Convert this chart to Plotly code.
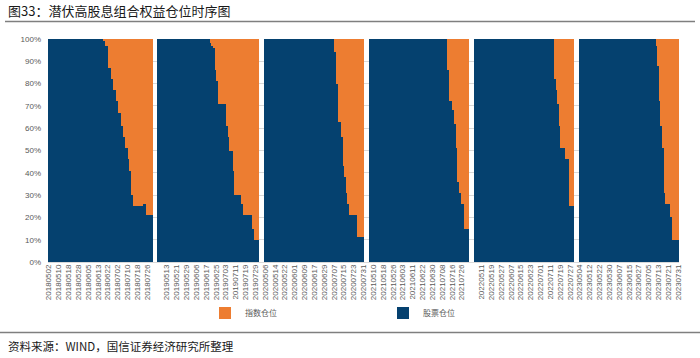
import plotly.graph_objects as go

# ---- data: stock (equity) position in %, one value per trading day, per period ----
stock_2018 = [
    100, 100, 100, 100, 100, 100, 100, 100, 100, 100,
    100, 100, 100, 100, 100, 100, 100, 100, 100, 100,
    100, 100, 100, 100, 100, 100, 100, 100, 100, 100,
    100, 100, 100, 100, 99, 97, 97, 87, 87, 82,
    77, 77, 72, 67, 67, 61, 56, 51, 51, 46,
    41, 30, 25, 25, 25, 25, 25, 25, 26, 26,
    21, 21, 21, 21]
stock_2019 = [
    100, 100, 100, 100, 100, 100, 100, 100, 100, 100,
    100, 100, 100, 100, 100, 100, 100, 100, 100, 100,
    100, 100, 100, 100, 100, 100, 100, 100, 100, 100,
    100, 100, 98, 97, 96, 86, 81, 71, 71, 71,
    71, 71, 61, 56, 50, 50, 41, 30, 30, 30,
    30, 26, 21, 21, 21, 21, 21, 21, 15, 10,
    10, 10]
stock_2020 = [
    100, 100, 100, 100, 100, 100, 100, 100, 100, 100,
    100, 100, 100, 100, 100, 100, 100, 100, 100, 100,
    100, 100, 100, 100, 100, 100, 100, 100, 100, 100,
    100, 100, 100, 100, 100, 100, 100, 100, 100, 100,
    100, 100, 100, 94, 80, 63, 63, 56, 43, 38,
    31, 26, 21, 21, 21, 21, 21, 11, 11, 11,
    11]
stock_2021 = [
    100, 100, 100, 100, 100, 100, 100, 100, 100, 100,
    100, 100, 100, 100, 100, 100, 100, 100, 100, 100,
    100, 100, 100, 100, 100, 100, 100, 100, 100, 100,
    100, 100, 100, 100, 100, 100, 100, 100, 100, 100,
    100, 100, 100, 100, 100, 100, 100, 100, 86, 72,
    72, 68, 62, 51, 36, 31, 26, 26, 15, 15,
    15]
stock_2022 = [
    100, 100, 100, 100, 100, 100, 100, 100, 100, 100,
    100, 100, 100, 100, 100, 100, 100, 100, 100, 100,
    100, 100, 100, 100, 100, 100, 100, 100, 100, 100,
    100, 100, 100, 100, 100, 100, 100, 100, 100, 100,
    100, 100, 100, 100, 100, 100, 100, 100, 100, 82,
    77, 71, 61, 51, 51, 51, 46, 46, 25, 25,
    25]
stock_2023 = [
    100, 100, 100, 100, 100, 100, 100, 100, 100, 100,
    100, 100, 100, 100, 100, 100, 100, 100, 100, 100,
    100, 100, 100, 100, 100, 100, 100, 100, 100, 100,
    100, 100, 100, 100, 100, 100, 100, 100, 100, 100,
    100, 100, 100, 100, 100, 100, 100, 97, 88, 72,
    61, 51, 31, 26, 26, 26, 20, 10, 10, 10,
    10]

tick_2018 = ["20180502", "20180510", "20180518", "20180528", "20180605", "20180613",
             "20180622", "20180702", "20180710", "20180718", "20180726"]
tick_2019 = ["20190513", "20190521", "20190529", "20190606", "20190617", "20190625",
             "20190703", "20190711", "20190719", "20190729"]
tick_2020 = ["20200506", "20200514", "20200522", "20200601", "20200609", "20200617",
             "20200629", "20200707", "20200715", "20200723", "20200731"]
tick_2021 = ["20210510", "20210518", "20210526", "20210603", "20210611", "20210622",
             "20210630", "20210708", "20210716", "20210726"]
tick_2022 = ["20220511", "20220519", "20220527", "20220607", "20220615", "20220623",
             "20220701", "20220711", "20220719", "20220727"]
tick_2023 = ["20230504", "20230512", "20230522", "20230530", "20230607", "20230615",
             "20230627", "20230705", "20230713", "20230721", "20230731"]

# position (trading-day index inside each period) of the first labelled date
first_tick_day = [0, 5, 0, 2, 4, 0]

panels = [stock_2018, stock_2019, stock_2020, stock_2021, stock_2022, stock_2023]
panel_ticks = [tick_2018, tick_2019, tick_2020, tick_2021, tick_2022, tick_2023]
GAP = 3   # empty categories between periods
STEP = 6  # label every 6 trading days

x_all, stock_all, index_all = [], [], []
tickvals, ticktext = [], []
pos = 0
for vals, tl, ft in zip(panels, panel_ticks, first_tick_day):
    for i, v in enumerate(vals):
        x_all.append(pos + i)
        stock_all.append(v)
        index_all.append(100 - v)
    for k, t in enumerate(tl):
        tickvals.append(pos + ft + STEP * k)
        ticktext.append(t)
    pos += len(vals) + GAP
x_max = pos - GAP - 0.5

BLUE = "#05416F"
ORANGE = "#ED7D31"
FONT = "Liberation Sans, Arial, Noto Sans CJK SC"
CJK = "Noto Sans CJK SC, Liberation Sans"

fig = go.Figure()
fig.add_trace(go.Bar(x=x_all, y=stock_all, name="股票仓位", marker_color=BLUE,
                     marker_line_width=0))
fig.add_trace(go.Bar(x=x_all, y=index_all, name="指数仓位", marker_color=ORANGE,
                     marker_line_width=0))

L, R, T, B = 48, 21, 39, 96
W, H = 700, 358
pw, ph = W - L - R, H - T - B


def px(xp):
    return (xp - L) / pw


def py(yp):
    return (H - B - yp) / ph


fig.update_layout(
    width=W, height=H,
    margin=dict(l=L, r=R, t=T, b=B, pad=0, autoexpand=False),
    paper_bgcolor="white", plot_bgcolor="white",
    barmode="stack", bargap=0,
    xaxis=dict(range=[-0.5, x_max], tickmode="array", tickvals=tickvals,
               ticktext=ticktext, tickangle=-90, showgrid=False, zeroline=False,
               ticks="", tickfont=dict(size=8, color="#595959", family=FONT),
               showline=False),
    yaxis=dict(range=[0, 100], dtick=10, ticksuffix="%", showgrid=True,
               gridcolor="#D9D9D9", gridwidth=1, zeroline=True, zerolinecolor="#D9D9D9",
               zerolinewidth=1, ticks="", ticklabelstandoff=6,
               tickfont=dict(size=8, color="#595959", family=FONT)),
    legend=dict(orientation="h", x=px(205), xanchor="left", y=py(313), yanchor="middle",
                traceorder="reversed", entrywidth=133, entrywidthmode="pixels",
                font=dict(size=8, color="#595959", family=CJK),
                bgcolor="rgba(0,0,0,0)"),
    showlegend=True,
    shapes=[
        dict(type="rect", xref="paper", yref="paper", x0=px(5), x1=px(695),
             y0=py(22.2), y1=py(20.8), fillcolor="#7F7F7F", line=dict(width=0),
             layer="above"),
        dict(type="line", xref="paper", yref="paper", x0=px(0), x1=px(700),
             y0=py(332.5), y1=py(332.5), line=dict(color="#7F7F7F", width=1.5),
             layer="above"),
    ],
    annotations=[
        dict(xref="paper", yref="paper", x=px(6), y=py(10), xanchor="left",
             yanchor="middle", showarrow=False,
             text="图33：潜伏高股息组合权益仓位时序图",
             font=dict(size=13, color="#1A1A1A", family=CJK)),
        dict(xref="paper", yref="paper", x=px(6), y=py(346), xanchor="left",
             yanchor="middle", showarrow=False,
             text="资料来源：WIND，国信证券经济研究所整理",
             font=dict(size=11.5, color="#1A1A1A", family=CJK)),
    ],
)

fig.write_html("out.html", config={"displayModeBar": False},
               post_script="document.body.style.margin='0px';")
